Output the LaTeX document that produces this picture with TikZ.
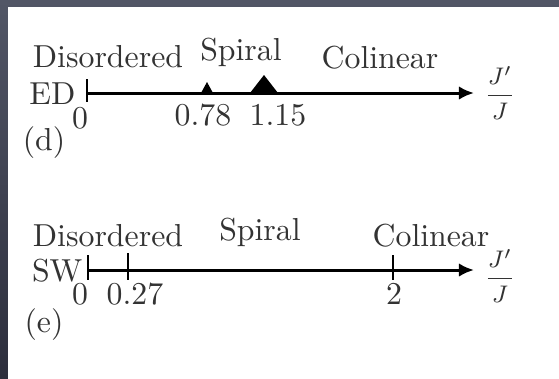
\documentclass[tikz,border=0pt]{standalone}
\usetikzlibrary{arrows.meta}
\tikzset{
  phase/.style={anchor=base, text=black!80, inner sep=0pt, font=\fontsize{10.6}{12}\selectfont},
  val/.style={text=black!80, inner sep=0pt, font=\fontsize{10.6}{12}\selectfont},
  tickmark/.style={line width=0.5pt},
  phaseaxis/.style={line width=1pt, -{Latex[length=5pt,width=4.5pt]}},
}
\begin{document}
\begin{tikzpicture}[x=0.3333pt, y=-0.3333pt]
  % pozadie
  \useasboundingbox (0,0) rectangle (559,378);
  \shade[top color={rgb,255:red,82;green,86;blue,102}, bottom color={rgb,255:red,44;green,46;blue,60}] (0,0) rectangle (559,378);
  \fill[white] (8,7) rectangle (575,395);

  % (d) os
  \coordinate (d0) at (87,93);
  \coordinate (dend) at (474,93);
  \draw[phaseaxis] (d0) -- (dend);
  \draw[tickmark] (87,79) -- (87,102);
  \node[val, anchor=east] (ed) at (76,94) {ED};
  \node[val] (dzero) at (80,118) {0};
  \node[val, font=\footnotesize] (dfrac) at (500,93) {$\displaystyle\frac{J'}{J}$};

  % (d) prechody
  \fill (207,82) -- (213,93) -- (201,93) -- cycle;
  \fill (264,75) -- (278,93) -- (250,93) -- cycle;
  \node[val] (dlow) at (203,115) {0.78};
  \node[val] (dhigh) at (278,115) {1.15};

  % (d) fazy
  \node[phase] (ddis) at (108,67) {Disordered};
  \node[phase] (dspi) at (241,60) {Spiral};
  \node[phase] (dcol) at (380,68) {Colinear};
  \node[val] (dlab) at (44,143) {(d)};

  % (e) os
  \coordinate (e0) at (88,270);
  \coordinate (eend) at (474,270);
  \draw[phaseaxis] (e0) -- (eend);
  \foreach \x/\y in {88/255, 128/253, 393/255}
    \draw[tickmark] (\x,\y) -- (\x,280);
  \node[val, anchor=east] (sw) at (83,271) {SW};
  \foreach \x/\t [count=\i] in {80/0, 135/0.27, 394/2}
    \node[val] (eval\i) at (\x,294) {\t};
  \node[val, font=\footnotesize] (efrac) at (500,276) {$\displaystyle\frac{J'}{J}$};

  % (e) fazy
  \node[phase] (edis) at (108,246) {Disordered};
  \node[phase] (espi) at (260,240) {Spiral};
  \node[phase] (ecol) at (431,246) {Colinear};
  \node[val] (elab) at (44,325) {(e)};

\end{tikzpicture}
\end{document}
